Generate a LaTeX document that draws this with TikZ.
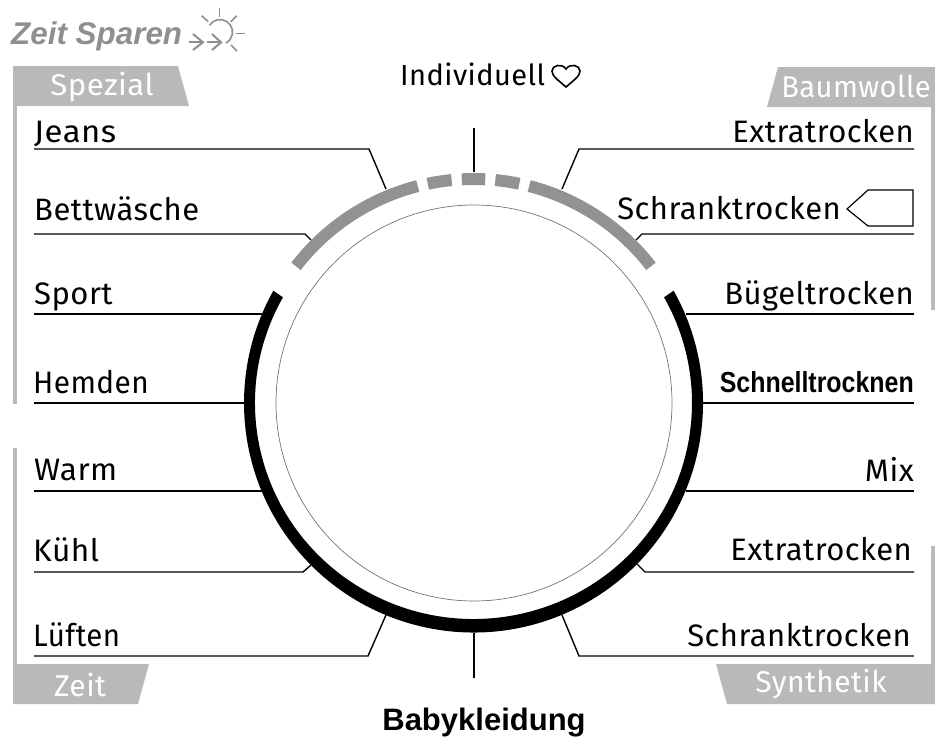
\documentclass[tikz,border=0pt]{standalone}
\usepackage{fontspec}
\usetikzlibrary{calc}
\setmainfont{Fira Sans}[LetterSpace=1.5]
\newfontfamily\arialf{Liberation Sans}
\definecolor{ring}{HTML}{929292}
\definecolor{tabg}{HTML}{B9B9B9}
\definecolor{sung}{HTML}{8F8F8F}
\newcommand{\widthfit}[2]{\scalebox{#1}[1]{#2}}
\begin{document}
\begin{tikzpicture}[x=1pt,y=-1pt,
  lab/.style={font=\fontsize{31}{31}\selectfont,inner sep=0pt,text=black,yshift=-0.8pt},
  labl/.style={lab,anchor=base west},
  labr/.style={lab,anchor=base east},
  tabt/.style={font=\fontsize{30}{30}\selectfont,inner sep=0pt,text=white,anchor=base},
  tabf/.style={fill=tabg,draw=none},
  lead/.style={draw=black,line width=1.4pt},
  grayarc/.style={draw=ring,line width=12pt},
  sunl/.style={draw=sung,line width=1.6pt}]
\useasboundingbox (0,0) rectangle (935,742);
% frames and tabs
\fill[tabf] (13,66) -- (178,66) -- (189,106) -- (13,106) -- cycle;
\fill[tabf] (13,106) rectangle (17,404);
\fill[tabf] (13,448) rectangle (17,664);
\fill[tabf] (13,664) -- (149,664) -- (138,704) -- (13,704) -- cycle;
\fill[tabf] (778,67) -- (935,67) -- (935,107) -- (767,107) -- cycle;
\fill[tabf] (931,107) rectangle (935,310);
\fill[tabf] (931,546) rectangle (935,664);
\fill[tabf] (716,664) -- (935,664) -- (935,704) -- (727,704) -- cycle;
\node[tabt] (tspezial) at (102,95) {\widthfit{1.04}{Spezial}};
\node[tabt] (tzeit) at (80,696) {Zeit};
\node[tabt,anchor=base east] (tbaum) at (931,97) {\widthfit{0.97}{Baumwolle}};
\node[tabt] (tsyn) at (821,692) {Synthetik};
% title
\node[inner sep=0pt,anchor=base west,text=sung,font=\arialf\bfseries\itshape\fontsize{31.4}{31.4}\selectfont] (title) at (11,44) {Zeit Sparen};
\draw[sunl] (209.4,25.4) arc[start angle=-148,end angle=62,radius=12.5];
\draw[sunl] (219.3,8) -- (219.3,17);
\draw[sunl] (201.7,15.7) -- (208.3,21.7);
\draw[sunl] (236.7,15.7) -- (230.7,21.7);
\draw[sunl] (236,33.3) -- (245,33.3);
\draw[sunl] (231,45) -- (237,51);
\draw[sunl,line width=2pt] (189,42.3) -- (203,42.3);
\draw[sunl,line width=2pt] (193,34) -- (203,42.3) -- (193,50);
\draw[sunl,line width=2pt] (207,42.3) -- (221,42.3);
\draw[sunl,line width=2pt] (212,34) -- (221,42.3) -- (212,50);
% dial
\node[circle,draw=black!55,line width=0.7pt,minimum size=396pt,inner sep=0pt] (dial) at (474,403) {};
\coordinate (c) at (473.5,403);
\draw[grayarc] (c) ++(-37.6:224) arc[start angle=-37.6,end angle=-75.6,radius=224];
\draw[grayarc] (c) ++(-78.2:224) arc[start angle=-78.2,end angle=-84.4,radius=224];
\draw[grayarc] (c) ++(-87:224) arc[start angle=-87,end angle=-93,radius=224];
\draw[grayarc] (c) ++(-95.6:224) arc[start angle=-95.6,end angle=-101.8,radius=224];
\draw[grayarc] (c) ++(-104.4:224) arc[start angle=-104.4,end angle=-142.4,radius=224];
\fill[black] (c) ++(-29.3:229.5)
  arc[start angle=-29.3,end angle=209.3,radius=229.5]
  -- ($(c)+(209.3:218.5 and 216)$)
  arc[start angle=209.3,end angle=-29.3,x radius=218.5,y radius=216]
  -- cycle;
% labels
\node[labl] (jeans) at (34,142) {\widthfit{1.06}{Jeans}};
\node[labl] (bett) at (34,220) {Bettwäsche};
\node[labl] (sport) at (34,304) {Sport};
\node[labl] (hemden) at (33,393) {\widthfit{0.96}{Hemden}};
\node[labl] (warm) at (34,480) {\widthfit{1.02}{Warm}};
\node[labl] (kuehl) at (33,561) {\widthfit{1.02}{Kühl}};
\node[labl] (lueften) at (33,646) {\widthfit{0.95}{Lüften}};
\node[labr] (xtra) at (914,142) {Extratrocken};
\node[labr] (schrank) at (841,219) {Schranktrocken};
\node[labr] (buegel) at (914,304) {Bügeltrocken};
\node[labr,font=\arialf\bfseries\fontsize{29}{29}\selectfont] (schnell) at (914,392) {\widthfit{0.86}{Schnelltrocknen}};
\node[labr] (mix) at (914,481) {Mix};
\node[labr] (xtrab) at (912,560) {Extratrocken};
\node[labr] (schrankb) at (911,646) {Schranktrocken};
\node[labl,font=\fontsize{29}{29}\selectfont] (indiv) at (400,85) {Individuell};
\node[inner sep=0pt,anchor=base,font=\arialf\bfseries\fontsize{31}{31}\selectfont] (baby) at (484,730) {Babykleidung};
% heart
\draw[line width=1.6pt] (566,87) .. controls (558,80) and (552,76) .. (552,71) .. controls (552,65) and (562,63) .. (566,69) .. controls (570,63) and (580,65) .. (580,71) .. controls (580,76) and (574,80) .. (566,87) -- cycle;
% tag
\node[draw=none,inner sep=0pt,minimum size=0pt] (tagtip) at (847,209) {};
\draw[line width=1.2pt] (tagtip.center) -- (868,190) -- (913,190) -- (913,226) -- (868,226) -- cycle;
% leaders
\coordinate (e1) at (386,189); \coordinate (k1) at (369,149); \coordinate (s1) at (34,149);
\draw[lead] (s1) -- (k1) -- (e1);
\coordinate (e2) at (311,240); \coordinate (k2) at (305,234); \coordinate (s2) at (34,234);
\draw[lead,line width=1.1pt] (s2) -- (k2) -- (e2);
\coordinate (s3) at (34,314); \coordinate (e3) at (262,314);
\draw[lead] (s3) -- (e3);
\coordinate (s4) at (34,403); \coordinate (e4) at (246,403);
\draw[lead] (s4) -- (e4);
\coordinate (s5) at (34,491); \coordinate (e5) at (262,491);
\draw[lead] (s5) -- (e5);
\coordinate (s6) at (34,572); \coordinate (k6) at (303,572); \coordinate (e6) at (311,565);
\draw[lead] (s6) -- (k6) -- (e6);
\coordinate (s7) at (34,656); \coordinate (k7) at (368,656); \coordinate (e7) at (386,615);
\draw[lead] (s7) -- (k7) -- (e7);
\coordinate (r1) at (914,149); \coordinate (q1) at (579,149); \coordinate (f1) at (562,189);
\draw[lead] (r1) -- (q1) -- (f1);
\coordinate (r2) at (914,234); \coordinate (q2) at (642,234); \coordinate (f2) at (636,240);
\draw[lead,line width=1.1pt] (r2) -- (q2) -- (f2);
\coordinate (r3) at (914,314); \coordinate (f3) at (686,314);
\draw[lead] (r3) -- (f3);
\coordinate (r4) at (914,403); \coordinate (f4) at (702,403);
\draw[lead] (r4) -- (f4);
\coordinate (r5) at (914,491); \coordinate (f5) at (686,491);
\draw[lead] (r5) -- (f5);
\coordinate (r6) at (914,572); \coordinate (q6) at (645,572); \coordinate (f6) at (637,564);
\draw[lead] (r6) -- (q6) -- (f6);
\coordinate (r7) at (914,656); \coordinate (q7) at (579,656); \coordinate (f7) at (562,615);
\draw[lead] (r7) -- (q7) -- (f7);
% ticks
\coordinate (tt) at (474,128); \coordinate (tb) at (474,172);
\draw[lead] (tt) -- (tb);
\coordinate (bt) at (474,633); \coordinate (bb) at (474,678);
\draw[lead] (bt) -- (bb);
\end{tikzpicture}
\end{document}
